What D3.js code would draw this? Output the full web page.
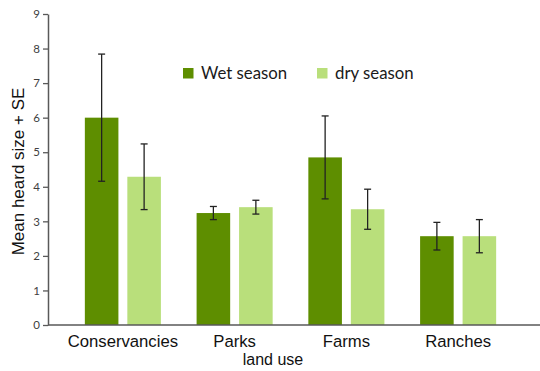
<!DOCTYPE html>
<html>
<head>
<meta charset="utf-8">
<script src="https://cdn.jsdelivr.net/npm/d3@7"></script>
<style>
  html, body { margin: 0; padding: 0; background: #fff; }
  svg { display: block; }
</style>
</head>
<body>
<svg id="chart" width="540" height="371"></svg>
<script>
// Land use categories and the two seasons
const categories = ["Conservancies", "Parks", "Farms", "Ranches"];
const seasons = ["Wet season", "dry season"];

// Mean herd size per land use, by season
const wetMeans = [6.0, 3.24, 4.85, 2.57];
const dryMeans = [4.29, 3.41, 3.35, 2.57];

// Standard errors
const wetSE = [1.84, 0.19, 1.2, 0.4];
const drySE = [0.95, 0.2, 0.58, 0.48];

const yTicks = [0, 1, 2, 3, 4, 5, 6, 7, 8, 9];
const colors = ["#5e8e00", "#b9df7b"];

const rows = categories.map((c, i) => ({
  category: c,
  values: [
    { season: seasons[0], mean: wetMeans[i], se: wetSE[i] },
    { season: seasons[1], mean: dryMeans[i], se: drySE[i] }
  ]
}));

const svg = d3.select("#chart");
const axisX = 48, plotBottom = 325, plotTop = 14;

const y = d3.scaleLinear().domain([0, 9]).range([plotBottom, plotTop]);
const x0 = d3.scaleBand().domain(categories).range([67, 514]).paddingInner(0).paddingOuter(0);
const x1 = d3.scaleBand().domain(seasons).range([0, x0.bandwidth()]).paddingInner(0.21).paddingOuter(0.42);
const color = d3.scaleOrdinal().domain(seasons).range(colors);

// Bars
const groups = svg.append("g").selectAll("g")
  .data(rows).join("g")
  .attr("transform", d => `translate(${x0(d.category)},0)`);

groups.selectAll("rect")
  .data(d => d.values).join("rect")
  .attr("x", d => x1(d.season))
  .attr("y", d => y(d.mean))
  .attr("width", x1.bandwidth())
  .attr("height", d => y(0) - y(d.mean))
  .attr("fill", d => color(d.season));

// Error bars
const capW = 3.5;
const eb = groups.selectAll("g.err")
  .data(d => d.values).join("g").attr("class", "err")
  .attr("stroke", "#222").attr("stroke-width", 1.3);
eb.append("line")
  .attr("x1", d => x1(d.season) + x1.bandwidth() / 2)
  .attr("x2", d => x1(d.season) + x1.bandwidth() / 2)
  .attr("y1", d => y(d.mean + d.se))
  .attr("y2", d => y(d.mean - d.se));
eb.append("line")
  .attr("x1", d => x1(d.season) + x1.bandwidth() / 2 - capW)
  .attr("x2", d => x1(d.season) + x1.bandwidth() / 2 + capW)
  .attr("y1", d => y(d.mean + d.se))
  .attr("y2", d => y(d.mean + d.se));
eb.append("line")
  .attr("x1", d => x1(d.season) + x1.bandwidth() / 2 - capW)
  .attr("x2", d => x1(d.season) + x1.bandwidth() / 2 + capW)
  .attr("y1", d => y(d.mean - d.se))
  .attr("y2", d => y(d.mean - d.se));

// Y axis
const yAxis = svg.append("g")
  .attr("transform", `translate(${axisX},0)`)
  .call(d3.axisLeft(y).tickValues(yTicks).tickSize(5).tickPadding(3).tickSizeOuter(0));
yAxis.select(".domain").attr("stroke", "#595959").attr("stroke-width", 1.5);
yAxis.selectAll(".tick line").attr("stroke", "#595959").attr("stroke-width", 1.3);
yAxis.selectAll(".tick text")
  .attr("fill", "#404040")
  .style("font-family", "Lato, 'Open Sans', sans-serif")
  .style("font-size", "11.5px");

// X axis baseline
svg.append("line")
  .attr("x1", axisX).attr("x2", 540)
  .attr("y1", y(0)).attr("y2", y(0))
  .attr("stroke", "#595959").attr("stroke-width", 1.5);

// Category labels
svg.append("g").selectAll("text")
  .data(categories).join("text")
  .attr("x", d => x0(d) + x0.bandwidth() / 2)
  .attr("y", 347)
  .attr("text-anchor", "middle")
  .style("font-family", "'Liberation Sans', Arial, sans-serif")
  .style("font-size", "16.7px")
  .attr("fill", "#111")
  .text(d => d);

// Axis titles
svg.append("text")
  .attr("x", 273).attr("y", 365)
  .attr("text-anchor", "middle")
  .style("font-family", "'Liberation Sans', Arial, sans-serif")
  .style("font-size", "16px")
  .attr("fill", "#111")
  .text("land use");

svg.append("text")
  .attr("transform", `translate(24,${(plotTop + plotBottom) / 2 + 2}) rotate(-90)`)
  .attr("text-anchor", "middle")
  .style("font-family", "'Liberation Sans', Arial, sans-serif")
  .style("font-size", "17px")
  .attr("fill", "#111")
  .text("Mean heard size + SE");

// Legend
const legendX = [183, 317];
const legend = svg.append("g").selectAll("g")
  .data(seasons).join("g")
  .attr("transform", (d, i) => `translate(${legendX[i]},68)`);
legend.append("rect")
  .attr("width", 10.5).attr("height", 10.5)
  .attr("fill", d => color(d));
legend.append("text")
  .attr("x", 18).attr("y", 11)
  .style("font-family", "Lato, 'Open Sans', sans-serif")
  .style("font-size", "16.8px")
  .attr("fill", "#1a1a1a")
  .text(d => d);
</script>
</body>
</html>
